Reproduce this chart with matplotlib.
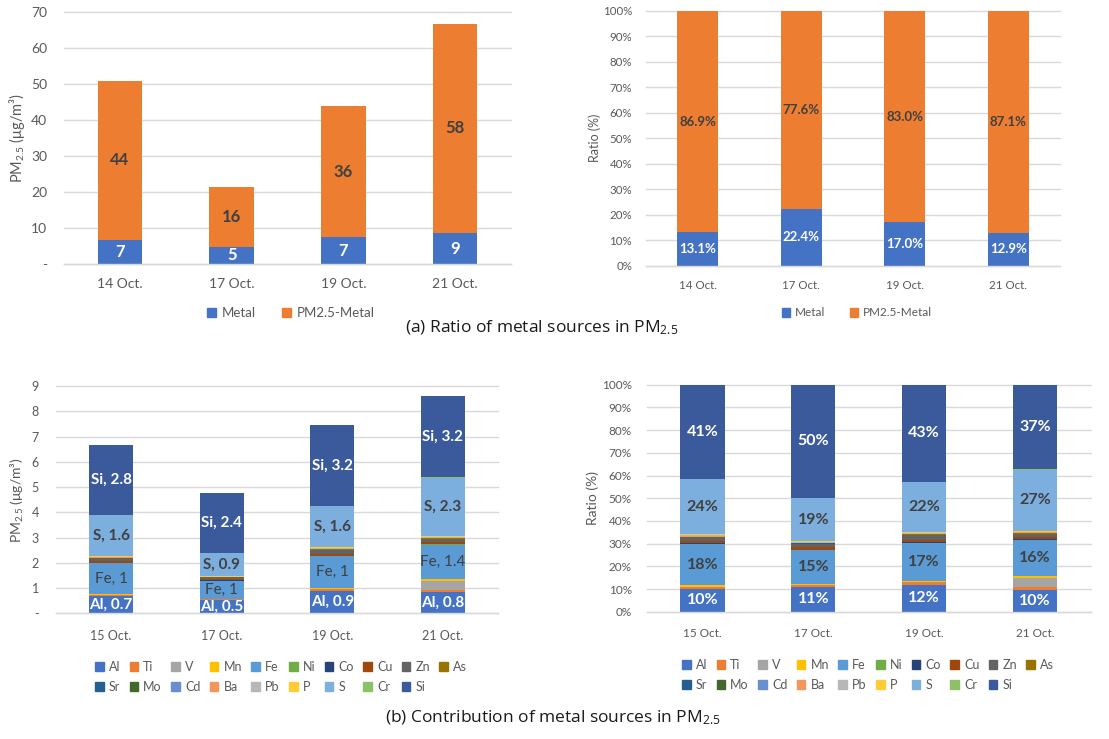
import matplotlib
matplotlib.use("Agg")
import matplotlib.pyplot as plt
from matplotlib.patches import Patch
import numpy as np

plt.rcParams['font.family'] = ['Lato', 'DejaVu Sans']
plt.rcParams['mathtext.fontset'] = 'custom'
plt.rcParams['mathtext.rm'] = 'Lato'
plt.rcParams['mathtext.it'] = 'Lato:italic'
plt.rcParams['mathtext.bf'] = 'Lato:bold'

# ---------------- data: (a) metal vs. rest of PM2.5 ----------------
dates_a = ['14 Oct.', '17 Oct.', '19 Oct.', '21 Oct.']
metal = [6.66, 4.76, 7.44, 8.59]
pm_minus_metal = [44.2, 16.48, 36.3, 58.1]

# ---------------- data: (b) element contributions (ug/m3) ----------------
dates_b = ['15 Oct.', '17 Oct.', '19 Oct.', '21 Oct.']
elements = ['Al', 'Ti', 'V', 'Mn', 'Fe', 'Ni', 'Co', 'Cu', 'Zn', 'As',
            'Sr', 'Mo', 'Cd', 'Ba', 'Pb', 'P', 'S', 'Cr', 'Si']
Al = [0.68, 0.52, 0.89, 0.83]
Ti = [0.05, 0.04, 0.07, 0.09]
V = [0.00, 0.00, 0.00, 0.37]
Mn = [0.04, 0.02, 0.03, 0.05]
Fe = [1.22, 0.71, 1.26, 1.38]
Ni = [0.01, 0.005, 0.01, 0.01]
Co = [0.01, 0.005, 0.02, 0.01]
Cu = [0.05, 0.05, 0.06, 0.07]
Zn = [0.12, 0.07, 0.18, 0.14]
As = [0.01, 0.01, 0.02, 0.02]
Sr = [0.01, 0.005, 0.01, 0.01]
Mo = [0.00, 0.00, 0.00, 0.00]
Cd = [0.00, 0.00, 0.00, 0.00]
Ba = [0.02, 0.01, 0.01, 0.02]
Pb = [0.02, 0.01, 0.02, 0.01]
P = [0.04, 0.03, 0.04, 0.04]
S = [1.60, 0.90, 1.62, 2.32]
Cr = [0.02, 0.01, 0.02, 0.02]
Si = [2.76, 2.37, 3.18, 3.20]
element_values = [Al, Ti, V, Mn, Fe, Ni, Co, Cu, Zn, As,
                  Sr, Mo, Cd, Ba, Pb, P, S, Cr, Si]
# decimals shown in the value labels of the absolute chart
fe_label_decimals = [0, 0, 0, 1]

element_colors = ['#4472C4', '#ED7D31', '#A5A5A5', '#FFC000', '#5B9BD5',
                  '#70AD47', '#264478', '#9E480E', '#636363', '#997300',
                  '#255E91', '#43682B', '#698ED0', '#F1975A', '#B7B7B7',
                  '#FFCD33', '#7CAFDD', '#8CC168', '#3A5A9C']

BLUE = '#4472C4'
ORANGE = '#ED7D31'
GRID = '#D9D9D9'
TICK = '#595959'
DARK = '#404040'

W, H = 1109, 739
fig = plt.figure(figsize=(W / 100, H / 100), dpi=100)
fig.patch.set_facecolor('white')


def px(x, y):
    return x / W, 1 - y / H


def add_axes(x0, x1, ytop, ybot):
    return fig.add_axes([x0 / W, 1 - ybot / H, (x1 - x0) / W, (ybot - ytop) / H])


def style(ax, ncat, ylim, yticks, yticklabels, cats, tsize, ypad, xpad):
    ax.set_xlim(-0.5, ncat - 0.5)
    ax.set_ylim(*ylim)
    ax.set_yticks(yticks)
    ax.set_yticklabels(yticklabels)
    ax.set_xticks(range(ncat))
    ax.set_xticklabels(cats)
    for s in ['top', 'right', 'left']:
        ax.spines[s].set_visible(False)
    ax.spines['bottom'].set_color(GRID)
    ax.spines['bottom'].set_linewidth(1.0)
    ax.grid(axis='y', color=GRID, linewidth=1.0, clip_on=False)
    ax.set_axisbelow(True)
    ax.tick_params(axis='both', length=0, labelsize=tsize, labelcolor=TICK)
    ax.tick_params(axis='y', pad=ypad)
    ax.tick_params(axis='x', pad=xpad)
    ax.set_facecolor('none')


x_a = np.arange(len(dates_a))
x_b = np.arange(len(dates_b))
width = 0.4

# ---------------- (a) left: absolute ----------------
ax1 = add_axes(64, 511, 11.7, 264)
metal_arr = np.array(metal)
rest_arr = np.array(pm_minus_metal)
ax1.bar(x_a, metal_arr, width, color=BLUE, linewidth=0)
ax1.bar(x_a, rest_arr, width, bottom=metal_arr, color=ORANGE, linewidth=0)
for i in range(len(dates_a)):
    ax1.text(x_a[i], metal_arr[i] / 2, f'{metal_arr[i]:.0f}', ha='center', va='center',
             color='white', fontsize=12, fontweight='bold')
    ax1.text(x_a[i], metal_arr[i] + rest_arr[i] / 2, f'{rest_arr[i]:.0f}', ha='center',
             va='center', color=DARK, fontsize=12, fontweight='bold')
style(ax1, 4, (0, 70), range(0, 71, 10), ['-'] + [str(v) for v in range(10, 71, 10)],
      dates_a, 10, 12, 10)
fig.text(*px(17, 138), r'PM$_{\mathregular{2.5}}$ (μg/m³)', rotation=90, ha='center',
         va='center', fontsize=10.5, color=TICK)
fig.legend(handles=[Patch(color=BLUE, label='Metal'), Patch(color=ORANGE, label='PM2.5-Metal')],
           loc='center', bbox_to_anchor=px(291, 313), ncol=2, frameon=False, fontsize=9.5,
           handlelength=0.7, handleheight=0.7, handletextpad=0.4, columnspacing=2.0,
           labelcolor=TICK)

# ---------------- (a) right: ratio ----------------
ax2 = add_axes(646, 1060, 10.7, 265.7)
tot = metal_arr + rest_arr
m_r = metal_arr / tot
r_r = rest_arr / tot
ax2.bar(x_a, m_r, width, color=BLUE, linewidth=0)
ax2.bar(x_a, r_r, width, bottom=m_r, color=ORANGE, linewidth=0)
for i in range(len(dates_a)):
    ax2.text(x_a[i], m_r[i] / 2, f'{m_r[i] * 100:.1f}%', ha='center', va='center',
             color='white', fontsize=9.5, fontweight='bold')
    ax2.text(x_a[i], m_r[i] + r_r[i] / 2, f'{r_r[i] * 100:.1f}%', ha='center', va='center',
             color=DARK, fontsize=9.5, fontweight='bold')
style(ax2, 4, (0, 1), np.linspace(0, 1, 11), [f'{v}%' for v in range(0, 101, 10)],
      dates_a, 8.3, 10, 10)
fig.text(*px(595, 138), 'Ratio (%)', rotation=90, ha='center', va='center',
         fontsize=9, color=TICK)
fig.legend(handles=[Patch(color=BLUE, label='Metal'), Patch(color=ORANGE, label='PM2.5-Metal')],
           loc='center', bbox_to_anchor=px(857, 313), ncol=2, frameon=False, fontsize=8.5,
           handlelength=0.7, handleheight=0.7, handletextpad=0.4, columnspacing=2.1,
           labelcolor=TICK)

fig.text(*px(542, 328), r'(a) Ratio of metal sources in PM$_{\mathregular{2.5}}$',
         ha='center', va='center', fontsize=12.5, color='#1a1a1a', family='Open Sans')

# ---------------- (b) left: absolute stack ----------------
ax3 = add_axes(55.7, 498.3, 386, 613.3)
vals = np.array(element_values)
bottoms = np.vstack([np.zeros(len(dates_b)), np.cumsum(vals, axis=0)[:-1]])
for k, name in enumerate(elements):
    ax3.bar(x_b, vals[k], width, bottom=bottoms[k], color=element_colors[k], linewidth=0)

label_style = {
    'Al': ('white', 'bold'),
    'Fe': (DARK, 'normal'),
    'S': (DARK, 'bold'),
    'Si': ('white', 'bold'),
}
for name, (col, wt) in label_style.items():
    k = elements.index(name)
    for i in range(len(dates_b)):
        dec = fe_label_decimals[i] if name == 'Fe' else 1
        ax3.text(x_b[i], bottoms[k][i] + vals[k][i] / 2, f'{name}, {vals[k][i]:.{dec}f}',
                 ha='center', va='center', color=col, fontsize=11, fontweight=wt)
style(ax3, 4, (0, 9), range(0, 10), ['-'] + [str(v) for v in range(1, 10)],
      dates_b, 9, 12, 12)
fig.text(*px(17, 500), r'PM$_{\mathregular{2.5}}$ (μg/m³)', rotation=90, ha='center',
         va='center', fontsize=10, color=TICK)

# ---------------- (b) right: share stack ----------------
ax4 = add_axes(647, 1090.5, 384.7, 611.7)
shares = vals / vals.sum(axis=0)
sb = np.vstack([np.zeros(len(dates_b)), np.cumsum(shares, axis=0)[:-1]])
for k, name in enumerate(elements):
    ax4.bar(x_b, shares[k], width, bottom=sb[k], color=element_colors[k], linewidth=0)
pct_style = {
    'Al': 'white',
    'Fe': DARK,
    'S': DARK,
    'Si': 'white',
}
for name, col in pct_style.items():
    k = elements.index(name)
    for i in range(len(dates_b)):
        ax4.text(x_b[i], sb[k][i] + shares[k][i] / 2, f'{shares[k][i] * 100:.0f}%',
                 ha='center', va='center', color=col, fontsize=11.5, fontweight='bold')
style(ax4, 4, (0, 1), np.linspace(0, 1, 11), [f'{v}%' for v in range(0, 101, 10)],
      dates_b, 8.5, 11, 12)
fig.text(*px(593, 498), 'Ratio (%)', rotation=90, ha='center', va='center',
         fontsize=10, color=TICK)

# legends for (b): two rows of ten, filled row-wise
handles = [Patch(color=c, label=n) for n, c in zip(elements, element_colors)]
order = []
for i in range(9):
    order += [handles[i], handles[10 + i]]
order.append(handles[9])
for cx, cy in [(281, 677), (868, 675)]:
    fig.legend(handles=order, loc='center', bbox_to_anchor=px(cx, cy), ncol=10,
               frameon=False, fontsize=9, handlelength=0.7, handleheight=0.7,
               handletextpad=0.4, columnspacing=0.75, labelspacing=0.65,
               labelcolor=TICK)

fig.text(*px(553, 718), r'(b) Contribution of metal sources in PM$_{\mathregular{2.5}}$',
         ha='center', va='center', fontsize=12.5, color='#1a1a1a', family='Open Sans')

fig.savefig('out.png', dpi=100, facecolor='white')
